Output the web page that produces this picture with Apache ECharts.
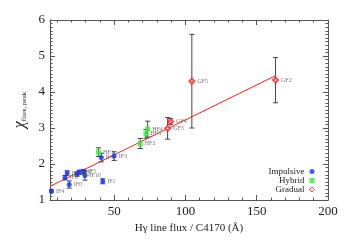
<!DOCTYPE html>
<html>
<head>
<meta charset="utf-8">
<script src="https://cdn.jsdelivr.net/npm/echarts@6/dist/echarts.min.js"></script>
<style>html,body{margin:0;padding:0;background:#fff;}#c{width:360px;height:240px;}</style>
</head>
<body>
<div id="c"></div>
<script>
// ---- data ----
var impNames = ['IF4','IF6','IF9','IF0','IF2','IF7','IF5','IF10','IF1','IF8','IF3'];
var impX     = [6, 15.5, 17, 18.5, 24, 25.5, 28.5, 29.5, 42, 41, 50];
var impY     = [1.25, 1.62, 1.75, 1.43, 1.72, 1.77, 1.79, 1.68, 1.52, 2.18, 2.22];
var impErr   = [0.03, 0.06, 0.06, 0.10, 0.06, 0.06, 0.06, 0.13, 0.07, 0.12, 0.12];

var hybNames = ['HF1','HF2','HF3','HF4'];
var hybX     = [39, 68.3, 72.3, 73.5];
var hybY     = [2.33, 2.57, 2.84, 2.97];
var hybErr   = [0.12, 0.14, 0.12, 0.22];

var gradNames = ['GF5','GF4','GF3','GF2'];
var gradX     = [104.5, 89.6, 87.5, 163.2];
var gradY     = [4.30, 3.18, 2.99, 4.33];
var gradErr   = [1.30, 0.08, 0.30, 0.63];

var fitX = [5, 163];
var fitY = [1.38, 4.45];

var xMajor = [50, 100, 150, 200];
var xMinor = [10, 20, 30, 40, 60, 70, 80, 90, 110, 120, 130, 140, 160, 170, 180, 190];

// ---- build ----
var FONT = 'Liberation Serif';
function pts(xs, ys, names) {
  return xs.map(function (x, i) { return { value: [x, ys[i]], name: names[i] }; });
}
function errs(xs, ys, es) {
  return xs.map(function (x, i) { return [x, ys[i] - es[i], ys[i] + es[i]]; });
}
var errData = errs(impX, impY, impErr).concat(errs(hybX, hybY, hybErr)).concat(errs(gradX, gradY, gradErr));

var lblStyle = {
  show: true, position: 'right', distance: 2,
  formatter: function (p) { return p.name; },
  fontFamily: FONT, fontSize: 6, color: '#555'
};

var axColor = '#555';
function xAx(pos, ticks, len, showLine, showLabel) {
  return {
    type: 'value', min: 5, max: 200, position: pos,
    axisLine: { show: showLine, onZero: false, lineStyle: { color: axColor, width: 1 } },
    axisTick: { show: true, inside: true, length: len, customValues: ticks, lineStyle: { color: axColor } },
    axisLabel: { show: showLabel, customValues: ticks, margin: 5, fontFamily: FONT, fontSize: 13, color: '#222' },
    splitLine: { show: false }
  };
}
var xAxes = [
  xAx('bottom', xMajor, 5, true, true),
  xAx('bottom', xMinor, 2.5, false, false),
  xAx('top', xMajor, 5, true, false),
  xAx('top', xMinor, 2.5, false, false)
];
xAxes[0].name = 'H\u03b3 line flux / C4170 (\u00c5)';
xAxes[0].nameLocation = 'middle';
xAxes[0].nameGap = 18;
xAxes[0].nameTextStyle = { fontFamily: FONT, fontSize: 11, color: '#222' };

function yAx(pos, showLabel) {
  return {
    type: 'value', min: 1, max: 6, interval: 1, position: pos,
    axisLine: { show: true, onZero: false, lineStyle: { color: axColor, width: 1 } },
    axisTick: { show: true, inside: true, length: 5, lineStyle: { color: axColor } },
    minorTick: { show: true, splitNumber: 10, length: 2.5, lineStyle: { color: axColor } },
    axisLabel: { show: showLabel, margin: 5, fontFamily: FONT, fontSize: 13, color: '#222' },
    splitLine: { show: false }
  };
}
var yAxes = [yAx('left', true), yAx('right', false)];
yAxes[0].name = '{a|\u03c7}{b|flare, peak}';
yAxes[0].nameLocation = 'middle';
yAxes[0].nameGap = 11;
yAxes[0].nameTextStyle = {
  fontFamily: FONT, color: '#222',
  rich: {
    a: { fontFamily: FONT, fontSize: 16, lineHeight: 16, fontStyle: 'italic', color: '#222' },
    b: { fontFamily: FONT, fontSize: 7, lineHeight: 6, verticalAlign: 'bottom', color: '#222' }
  }
};

var chart = echarts.init(document.getElementById('c'), null, { renderer: 'canvas' });
chart.setOption({
  animation: false,
  backgroundColor: '#fff',
  grid: { left: 50, right: 32, top: 20, bottom: 40, containLabel: false },
  xAxis: xAxes,
  yAxis: yAxes,
  legend: {
    orient: 'vertical', right: 40, top: 162, align: 'right',
    itemGap: 0, itemWidth: 5, itemHeight: 5,
    textStyle: { fontFamily: FONT, fontSize: 9, lineHeight: 9, color: '#222', padding: [0, 0, 0, 0] },
    data: [
      { name: 'Impulsive' },
      { name: 'Hybrid' },
      { name: 'Gradual', icon: 'diamond', itemStyle: { color: '#ffffff', borderColor: '#ff2020', borderWidth: 1 } }
    ]
  },
  series: [
    {
      type: 'line', name: 'fit', data: fitX.map(function (x, i) { return [x, fitY[i]]; }),
      symbol: 'none', lineStyle: { color: '#ff2020', width: 1 }, silent: true, z: 1
    },
    {
      type: 'custom', name: 'err', data: errData, z: 2,
      renderItem: function (params, api) {
        var x = api.value(0);
        var p1 = api.coord([x, api.value(1)]);
        var p2 = api.coord([x, api.value(2)]);
        var st = { stroke: '#444', lineWidth: 1 };
        var w = 2.5;
        return {
          type: 'group',
          children: [
            { type: 'line', shape: { x1: p1[0], y1: p1[1], x2: p2[0], y2: p2[1] }, style: st },
            { type: 'line', shape: { x1: p1[0] - w, y1: p1[1], x2: p1[0] + w, y2: p1[1] }, style: st },
            { type: 'line', shape: { x1: p2[0] - w, y1: p2[1], x2: p2[0] + w, y2: p2[1] }, style: st }
          ]
        };
      }
    },
    {
      type: 'scatter', name: 'Impulsive', data: pts(impX, impY, impNames),
      symbol: 'circle', symbolSize: 5, itemStyle: { color: '#1033ff' }, label: lblStyle, z: 3
    },
    {
      type: 'scatter', name: 'Hybrid', data: pts(hybX, hybY, hybNames),
      symbol: 'rect', symbolSize: 5, itemStyle: { color: '#33ee33' }, label: lblStyle, z: 3
    },
    {
      type: 'scatter', name: 'Gradual', data: pts(gradX, gradY, gradNames),
      symbol: 'emptyDiamond', symbolSize: 5,
      itemStyle: { color: '#ff2020', borderColor: '#ff2020', borderWidth: 1 }, label: lblStyle, z: 3
    }
  ]
});
</script>
</body>
</html>
